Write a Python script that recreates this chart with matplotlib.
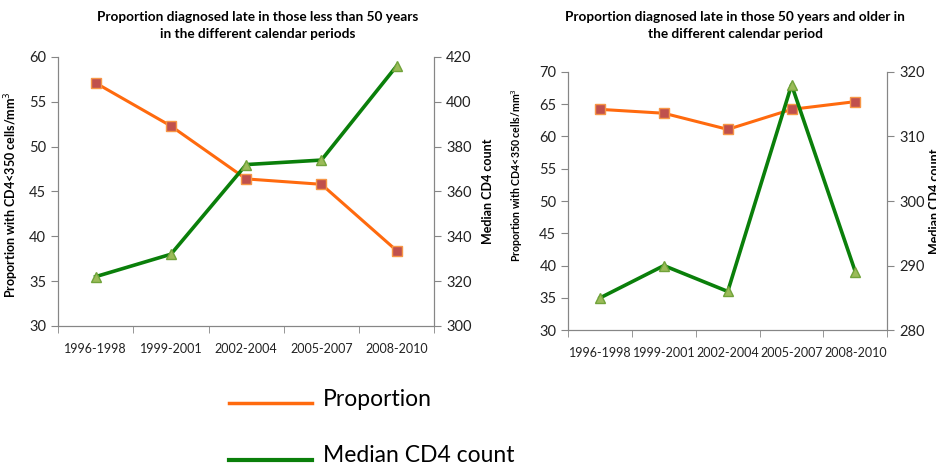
import matplotlib.pyplot as plt
from matplotlib.lines import Line2D

plt.rcParams['font.family'] = ['Lato', 'DejaVu Sans']

periods = ["1996-1998", "1999-2001", "2002-2004", "2005-2007", "2008-2010"]

# under 50
prop_young = [57.1, 52.3, 46.4, 45.8, 38.4]
cd4_young = [322, 332, 372, 374, 416]

# 50 and older
prop_old = [64.2, 63.6, 61.1, 64.2, 65.4]
cd4_old = [285, 290, 286, 318, 289]

legend_names = ["Proportion", "Median CD4 count"]

ORANGE = "#FF6A0E"
GREEN = "#0A7F0A"
AXIS = "#868686"
W, H = 936, 467


def drawPanel(ax, prop, cd4, ylim, yticks, y2lim, y2ticks, lab, lab2):
    x = list(range(len(periods)))
    ax2 = ax.twinx()
    ax.plot(x, prop, color=ORANGE, lw=2.2, marker="s", markersize=7,
            markerfacecolor="#C0504D", markeredgecolor="#F79646", zorder=3)
    ax2.plot(x, cd4, color=GREEN, lw=2.6, marker="^", markersize=7,
             markerfacecolor="#9BBB59", markeredgecolor="#71A33A", zorder=3)
    ax.set_xlim(-0.5, len(periods) - 0.5)
    ax.set_ylim(*ylim)
    ax.set_yticks(yticks)
    ax2.set_ylim(*y2lim)
    ax2.set_yticks(y2ticks)
    ax.set_xticks(x)
    ax.set_xticklabels(periods)
    ax.set_xticks([i - 0.5 for i in range(len(periods) + 1)], minor=True)
    ax.tick_params(axis="x", which="major", length=0, pad=12)
    ax.tick_params(axis="x", which="minor", length=5, color=AXIS, direction="out")
    for a in (ax, ax2):
        for s in a.spines.values():
            s.set_color(AXIS)
        a.spines["top"].set_visible(False)
        a.tick_params(axis="y", length=5, color=AXIS, labelsize=10.5,
                      labelcolor="#222222")
    ax.tick_params(axis="x", labelsize=9, labelcolor="#222222")
    # (size, x, y) for each axis title, in axes fraction
    ax.set_ylabel("Proportion with CD4<350 cells/mm$^3$", fontsize=lab[0],
                  fontweight="bold")
    ax.yaxis.set_label_coords(lab[1], lab[2])
    ax2.set_ylabel("Median CD4 count", fontsize=lab2[0], fontweight="bold")
    ax2.yaxis.set_label_coords(lab2[1], lab2[2])
    return ax2


fig = plt.figure(figsize=(9.36, 4.67), dpi=100)
axL = fig.add_axes([0.062, 0.302, 0.402, 0.576])
axR = fig.add_axes([0.607, 0.293, 0.341, 0.553])

drawPanel(axL, prop_young, cd4_young, (30, 60), range(30, 61, 5),
          (300, 420), range(300, 421, 20),
          (9, -0.098, 0.49), (9, 1.128, 0.5))
drawPanel(axR, prop_old, cd4_old, (30, 70), range(30, 71, 5),
          (280, 320), range(280, 321, 10),
          (7.6, -0.135, 0.60), (9, 1.132, 0.5))

fig.text(258 / W, 1 - 11 / H,
         "Proportion diagnosed late in those less than 50 years\nin the different calendar periods",
         ha="center", va="top", fontsize=9.8, fontweight="bold", linespacing=1.45)
fig.text(735 / W, 1 - 11 / H,
         "Proportion diagnosed late in those 50 years and older in\nthe different calendar period",
         ha="center", va="top", fontsize=9.8, fontweight="bold", linespacing=1.45)

# legend below the left panel, laid out by hand
for name, color, lw, ly, ty in zip(legend_names, [ORANGE, GREEN], [2.5, 3],
                                   [403, 460], [399, 455]):
    fig.add_artist(Line2D([229 / W, 312 / W], [1 - ly / H, 1 - ly / H],
                          color=color, lw=lw))
    fig.text(323 / W, 1 - ty / H, name, ha="left", va="center", fontsize=16.5)

fig.savefig("out.png", dpi=100)
